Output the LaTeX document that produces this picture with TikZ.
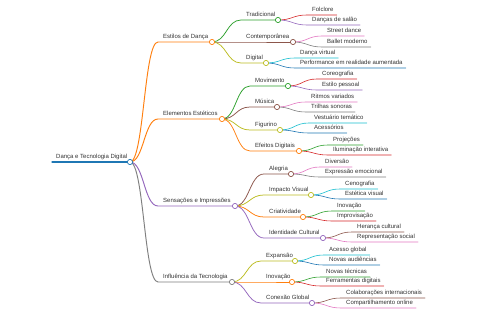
\documentclass[tikz,border=0pt]{standalone}
\usepackage{fontspec}
\setmainfont{Liberation Sans}
\usetikzlibrary{calc}
\definecolor{cBlue}{HTML}{1F77B4}
\definecolor{cOrange}{HTML}{FF7F0E}
\definecolor{cGreen}{HTML}{2CA02C}
\definecolor{cRed}{HTML}{D62728}
\definecolor{cPurple}{HTML}{9467BD}
\definecolor{cBrown}{HTML}{8C564B}
\definecolor{cPink}{HTML}{E377C2}
\definecolor{cGray}{HTML}{7F7F7F}
\definecolor{cOlive}{HTML}{BCBD22}
\definecolor{cCyan}{HTML}{17BECF}
\definecolor{txt}{HTML}{333333}
\tikzset{
  lbl/.style={font=\fontsize{6}{7}\selectfont, text=txt, inner sep=0pt, anchor=base west},
  link/.style={to path={let \p1=(\tikztostart), \p2=(\tikztotarget) in
     .. controls ({(\x1+\x2)/2},\y1) and ({(\x1+\x2)/2},\y2) .. (\tikztotarget)}},
  l0/.style={line width=1.2pt, line cap=round},
  l1/.style={line width=0.95pt, line cap=round},
  l2/.style={line width=0.75pt, line cap=round},
  l3/.style={line width=0.6pt, line cap=round},
  dot/.style={fill=white, line width=0.7pt}
}
% inner node: style, name, parent, xs, xe, y, text
\newcommand\mmn[7]{%
  \coordinate (#2-s) at (#4,#6);
  \coordinate (#2-e) at (#5,#6);
  \node[lbl] (#2) at (#4+5,#6-3.5) {#7};
  \draw[#1] (#3-e) to[link] (#2-s) -- (#2-e);
}
% leaf node: style, name, parent, xs, y, text
\newcommand\mml[6]{%
  \coordinate (#2-s) at (#4,#5);
  \node[lbl] (#2) at (#4+5,#5-3.5) {#6};
  \coordinate (#2-e) at ($(#2.east |- #2-s)+(3,0)$);
  \draw[#1] (#3-e) to[link] (#2-s) -- (#2-e);
}
\begin{document}
\begin{tikzpicture}[x=1pt,y=-1pt]
\fill[white] (0,0) rectangle (480,320);
\useasboundingbox (0,0) rectangle (480,320);
% root
\coordinate (root-s) at (52,162);
\coordinate (root-e) at (130,162);
\node[lbl] (root) at (56,158.5) {Dança e Tecnologia Digital};
\draw[l0, cBlue] (root-s) -- (root-e);
% level 1
\mmn{l1,cOrange}{est}{root}{158}{212}{42}{Estilos de Dança}
\mmn{l1,cOrange}{ele}{root}{158}{222}{119}{Elementos Estéticos}
\mmn{l1,cPurple}{sen}{root}{158}{235}{206}{Sensações e Impressões}
\mmn{l1,cGray}{inf}{root}{158}{232}{282}{Influência da Tecnologia}
% level 2
\mmn{l2,cGreen}{tra}{est}{241}{278}{20}{Tradicional}
\mmn{l2,cBrown}{con}{est}{241}{293}{42}{Contemporânea}
\mmn{l2,cOlive}{dig}{est}{241}{266}{63}{Digital}
\mmn{l2,cGreen}{mov}{ele}{250}{288}{86}{Movimento}
\mmn{l2,cBrown}{mus}{ele}{250}{277}{107}{Música}
\mmn{l2,cOlive}{fig}{ele}{250}{280}{130}{Figurino}
\mmn{l2,cOrange}{efe}{ele}{250}{299}{151}{Efeitos Digitais}
\mmn{l2,cBrown}{ale}{sen}{264}{291}{174}{Alegria}
\mmn{l2,cOlive}{imp}{sen}{264}{311}{195}{Impacto Visual}
\mmn{l2,cOrange}{cri}{sen}{264}{303}{217}{Criatividade}
\mmn{l2,cPurple}{ide}{sen}{264}{323}{238}{Identidade Cultural}
\mmn{l2,cOlive}{exp}{inf}{261}{295}{261}{Expansão}
\mmn{l2,cOrange}{ino}{inf}{261}{292}{282}{Inovação}
\mmn{l2,cPurple}{cox}{inf}{261}{312}{303}{Conexão Global}
% level 3
\mml{l3,cRed}{fol}{tra}{307}{15}{Folclore}
\mml{l3,cPurple}{dan}{tra}{307}{25}{Danças de salão}
\mml{l3,cPink}{str}{con}{322}{36}{Street dance}
\mml{l3,cGray}{bal}{con}{322}{47}{Ballet moderno}
\mml{l3,cCyan}{dvi}{dig}{295}{58}{Dança virtual}
\mml{l3,cBlue}{per}{dig}{295}{68}{Performance em realidade aumentada}
\mml{l3,cRed}{cor}{mov}{317}{79}{Coreografia}
\mml{l3,cPurple}{esp}{mov}{317}{90}{Estilo pessoal}
\mml{l3,cPink}{rit}{mus}{306}{102}{Ritmos variados}
\mml{l3,cGray}{tri}{mus}{306}{112}{Trilhas sonoras}
\mml{l3,cCyan}{ves}{fig}{309}{123}{Vestuário temático}
\mml{l3,cBlue}{ace}{fig}{309}{133}{Acessórios}
\mml{l3,cGreen}{pro}{efe}{328}{145}{Projeções}
\mml{l3,cRed}{ilu}{efe}{328}{155}{Iluminação interativa}
\mml{l3,cPink}{div}{ale}{320}{167}{Diversão}
\mml{l3,cGray}{exe}{ale}{320}{177}{Expressão emocional}
\mml{l3,cCyan}{cen}{imp}{340}{189}{Cenografia}
\mml{l3,cBlue}{etv}{imp}{340}{199}{Estética visual}
\mml{l3,cGreen}{inv}{cri}{332}{211}{Inovação}
\mml{l3,cRed}{imv}{cri}{332}{221}{Improvisação}
\mml{l3,cBrown}{her}{ide}{352}{232}{Herança cultural}
\mml{l3,cPink}{rep}{ide}{352}{242}{Representação social}
\mml{l3,cCyan}{acg}{exp}{324}{255}{Acesso global}
\mml{l3,cBlue}{nau}{exp}{324}{265}{Novas audiências}
\mml{l3,cGreen}{nte}{ino}{321}{277}{Novas técnicas}
\mml{l3,cRed}{fer}{ino}{321}{286}{Ferramentas digitais}
\mml{l3,cBrown}{col}{cox}{341}{298}{Colaborações internacionais}
\mml{l3,cPink}{com}{cox}{341}{308}{Compartilhamento online}
% circles
\foreach \n/\c in {root/cBlue, est/cOrange, ele/cOrange, sen/cPurple, inf/cGray,
  tra/cGreen, con/cBrown, dig/cOlive, mov/cGreen, mus/cBrown, fig/cOlive, efe/cOrange,
  ale/cBrown, imp/cOlive, cri/cOrange, ide/cPurple, exp/cOlive, ino/cOrange, cox/cPurple}
  \draw[dot, draw=\c] (\n-e) circle (2.6);
\end{tikzpicture}
\end{document}
